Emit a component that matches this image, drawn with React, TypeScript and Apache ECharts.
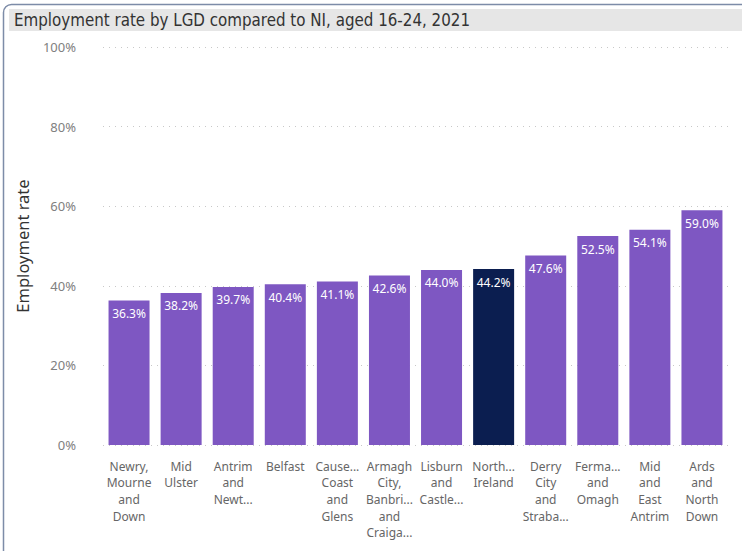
import React, { useEffect, useRef } from "react";
import * as echarts from "echarts";

const categories = [
  "Newry,\nMourne\nand\nDown",
  "Mid\nUlster",
  "Antrim\nand\nNewt...",
  "Belfast",
  "Cause...\nCoast\nand\nGlens",
  "Armagh\nCity,\nBanbri...\nand\nCraiga...",
  "Lisburn\nand\nCastle...",
  "North...\nIreland",
  "Derry\nCity\nand\nStraba...",
  "Ferma...\nand\nOmagh",
  "Mid\nand\nEast\nAntrim",
  "Ards\nand\nNorth\nDown",
];
const values = [36.3, 38.2, 39.7, 40.4, 41.1, 42.6, 44.0, 44.2, 47.6, 52.5, 54.1, 59.0];
const highlightIndex = 7;
const titleText = "Employment rate by LGD compared to NI, aged 16-24, 2021";
const yAxisName = "Employment rate";

export default function App() {
  const ref = useRef<HTMLDivElement>(null);
  useEffect(() => {
    if (!ref.current) return;
    const chart = echarts.init(ref.current, undefined, { renderer: "svg" });
    chart.setOption({
      animation: false,
      backgroundColor: "#ffffff",
      graphic: [
        {
          type: "rect",
          shape: { x: 3.5, y: 4.5, width: 760, height: 570, r: 8 },
          style: { fill: "none", stroke: "#7d8ca8", lineWidth: 1.5 },
          silent: true,
        },
        {
          type: "rect",
          shape: { x: 9, y: 9, width: 733, height: 22 },
          style: { fill: "#e6e6e6" },
          silent: true,
        },
        {
          type: "text",
          x: 14,
          y: 20,
          style: {
            text: titleText,
            fill: "#333333",
            font: "16.8px 'DejaVu Sans Condensed', 'Liberation Sans Narrow', sans-serif",
            textVerticalAlign: "middle",
          },
          silent: true,
        },
      ],
      grid: { left: 103, right: 14, top: 47, bottom: 106, containLabel: false },
      xAxis: {
        type: "category",
        data: categories,
        axisLine: { show: false },
        axisTick: { show: false },
        axisLabel: {
          interval: 0,
          color: "#666666",
          fontSize: 12,
          fontFamily: "'Noto Sans', sans-serif",
          lineHeight: 16.6,
          margin: 13,
          verticalAlign: "top",
        },
      },
      yAxis: {
        type: "value",
        min: 0,
        max: 100,
        interval: 20,
        name: yAxisName,
        nameLocation: "middle",
        nameGap: 72,
        nameTextStyle: {
          color: "#333333",
          fontSize: 16.5,
          fontFamily: "'Noto Sans', sans-serif",
        },
        axisLabel: {
          formatter: "{value}%",
          color: "#808080",
          fontSize: 13,
          fontFamily: "'Noto Sans', sans-serif",
          margin: 27,
        },
        splitLine: {
          lineStyle: { color: "#c8c8c8", type: [1, 5], width: 1 },
        },
      },
      series: [
        {
          type: "bar",
          barWidth: 41,
          data: values.map((v, i) => ({
            value: v,
            itemStyle: { color: i === highlightIndex ? "#0b1e50" : "#7e57c2" },
          })),
          label: {
            show: true,
            position: "insideTop",
            distance: 7,
            color: "#ffffff",
            fontSize: 12,
            fontFamily: "'Noto Sans', sans-serif",
            formatter: (p: any) => `${Number(p.value).toFixed(1)}%`,
          },
        },
      ],
    });
    return () => chart.dispose();
  }, []);
  return (
    <div
      ref={ref}
      style={{ position: "fixed", left: 0, top: 0, width: 742, height: 551 }}
    />
  );
}
